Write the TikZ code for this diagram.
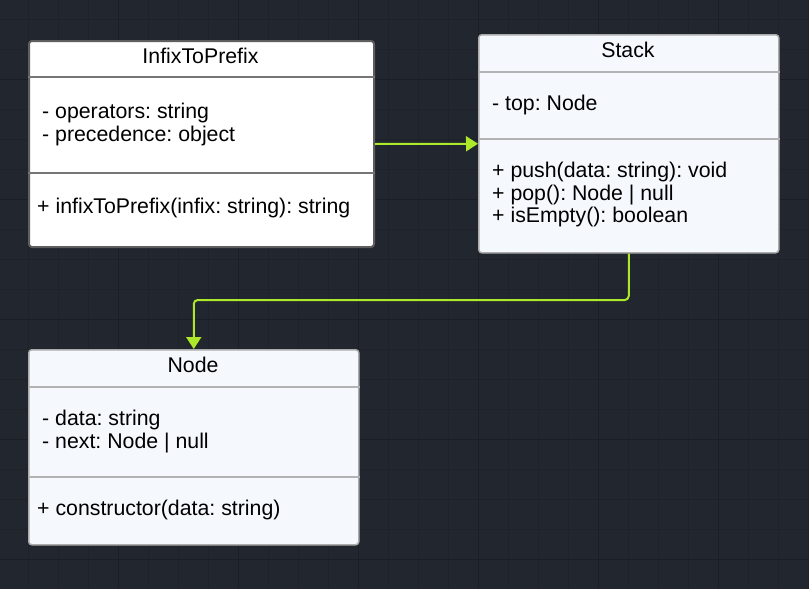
\documentclass[tikz,border=0pt]{standalone}
\usepackage{fontspec}
\setmainfont{Liberation Sans}
\frenchspacing
\usetikzlibrary{arrows.meta}
\definecolor{bgc}{HTML}{22262E}
\definecolor{gridminor}{HTML}{1F2229}
\definecolor{gridmajor}{HTML}{1B1E24}
\definecolor{lime}{HTML}{ADE82A}
\definecolor{boxfill}{HTML}{F5F9FE}
\definecolor{darkborder}{HTML}{5E5E5E}
\definecolor{lightborder}{HTML}{ABABAB}
\tikzset{
  umlwhite/.style={draw=darkborder, line width=2pt, fill=white, rounded corners=3pt, anchor=north west, inner sep=0pt},
  umllight/.style={draw=lightborder, line width=1.5pt, fill=boxfill, rounded corners=3pt, anchor=north west, inner sep=0pt},
  divdark/.style={draw=darkborder!85, line width=2pt},
  divlight/.style={draw=lightborder!90, line width=1.5pt},
  txt/.style={anchor=base west, inner sep=0pt, font=\fontsize{21.3}{24}\selectfont\frenchspacing, text=black},
  ttl/.style={anchor=base, inner sep=0pt, font=\fontsize{21.3}{24}\selectfont, text=black},
  conn/.style={draw=lime, line width=2pt, -{Triangle[width=15pt,length=12pt]}},
}
\begin{document}
\begin{tikzpicture}[x=1pt,y=-1pt]
\useasboundingbox (0,0) rectangle (809,589);
\fill[bgc] (0,0) rectangle (809,589);
% grid
\foreach \gx in {28,58,...,808} \draw[gridminor, line width=1pt] (\gx,0) -- (\gx,589);
\foreach \gy in {19,49,...,588} \draw[gridminor, line width=1pt] (0,\gy) -- (809,\gy);
\foreach \gx in {118,238,...,808} \draw[gridmajor, line width=1pt] (\gx,0) -- (\gx,589);
\foreach \gy in {79,199,...,588} \draw[gridmajor, line width=1pt] (0,\gy) -- (809,\gy);

% InfixToPrefix
\node[umlwhite, minimum width=345pt, minimum height=206pt] (itp) at (28,40) {};
\draw[divdark] (itp.west |- 0,77) -- (itp.east |- 0,77);
\draw[divdark] (itp.west |- 0,173) -- (itp.east |- 0,173);
\node[ttl] (itpT) at (200.5,63.3) {InfixToPrefix};
\node[txt] (itpA1) at (42,118.3) {- operators: string};
\node[txt] (itpA2) at (42,141.7) {- precedence: object};
\node[txt] (itpM1) at (37,213.3) {+ infixToPrefix(infix: string): string};

% Stack
\node[umllight, minimum width=300pt, minimum height=218pt] (stack) at (478,34) {};
\draw[divlight] (stack.west |- 0,72) -- (stack.east |- 0,72);
\draw[divlight] (stack.west |- 0,139) -- (stack.east |- 0,139);
\node[ttl] (stackT) at (628,57.3) {Stack};
\node[txt] (stackA1) at (492,110) {- top: Node};
\node[txt] (stackM1) at (492,177.7) {+ push(data: string): void};
\node[txt] (stackM2) at (492,200) {+ pop(): Node | null};
\node[txt] (stackM3) at (492,222.7) {+ isEmpty(): boolean};

% Node
\node[umllight, minimum width=330pt, minimum height=195pt] (nodebox) at (28,349) {};
\draw[divlight] (nodebox.west |- 0,387) -- (nodebox.east |- 0,387);
\draw[divlight] (nodebox.west |- 0,477) -- (nodebox.east |- 0,477);
\node[ttl] (nodeT) at (193,372.3) {Node};
\node[txt] (nodeA1) at (42,425) {- data: string};
\node[txt] (nodeA2) at (42,448.3) {- next: Node | null};
\node[txt] (nodeM1) at (37,515) {+ constructor(data: string)};

% connectors
\draw[conn] (itp.east) -- (stack.west);
\coordinate (bend) at (0,300);
\draw[conn, rounded corners=4pt] (stack.south) -- (stack.south |- bend) -| (nodebox.north);
\end{tikzpicture}
\end{document}
